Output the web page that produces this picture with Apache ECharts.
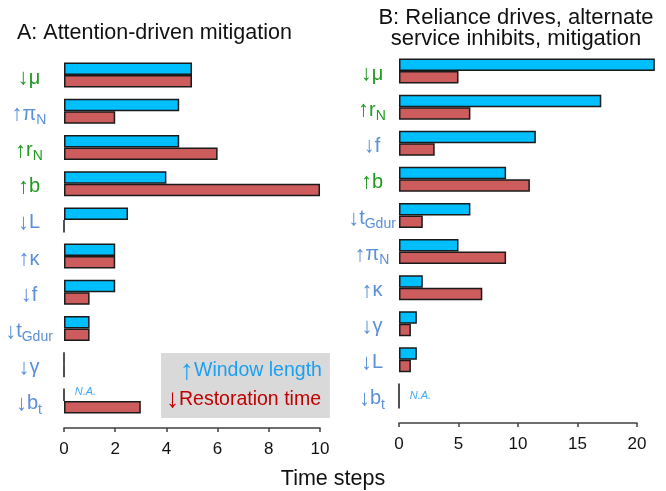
<!DOCTYPE html>
<html>
<head>
<meta charset="utf-8">
<script src="https://cdn.jsdelivr.net/npm/echarts@6/dist/echarts.min.js"></script>
<style>html,body{margin:0;padding:0;background:#fff}#c{width:666px;height:491px}</style>
</head>
<body>
<div id="c"></div>
<script>
// ---- Data ----
var catsA = ['↓μ', '↑π_N', '↑r_N', '↑b', '↓L', '↑κ', '↓f', '↓t_Gdur', '↓γ', '↓b_t'];
var windowA = [5, 4.5, 4.5, 4, 2.5, 2, 2, 1, 0, 'N.A.'];
var restoreA = [5, 2, 6, 10, 0, 2, 1, 1, 0, 3];

var catsB = ['↓μ', '↑r_N', '↓f', '↑b', '↓t_Gdur', '↑π_N', '↑κ', '↓γ', '↓L', '↓b_t'];
var windowB = [21.5, 17, 11.5, 9, 6, 5, 2, 1.5, 1.5, 'N.A.'];
var restoreB = [5, 6, 3, 11, 2, 9, 7, 1, 1, 'N.A.'];

var greenCats = ['↓μ', '↑r_N', '↑b'];
var ticksA = [0, 2, 4, 6, 8, 10];
var ticksB = [0, 5, 10, 15, 20];

var titleA = 'A: Attention-driven mitigation';
var titleB = 'B: Reliance drives, alternate\nservice inhibits, mitigation';
var seriesNames = ['↑Window length', '↓Restoration time'];
var xName = 'Time steps';

// ---- Styles ----
var BLUE = '#00bfff', RED = '#cd5c5c', EDGE = '#1a1a1a';
var LBL_GREEN = '#1f9a1f', LBL_BLUE = '#5b8fd8';
var LEG_BLUE = '#1a9ff0', LEG_RED = '#c00000';
var FONT = 'Liberation Sans, Arial, sans-serif';

function labelFmt(v) {
  var key = greenCats.indexOf(v) >= 0 ? 'g' : 'b';
  var parts = v.split('_');
  var s = '{' + key + 'a|' + parts[0].charAt(0) + '}{' + key + '|' + parts[0].slice(1) + '}';
  if (parts[1]) s += '{' + key + 's|' + parts[1] + '}';
  return s;
}
function mkRich(color) {
  return {
    a: {color: color, fontSize: 22, fontFamily: FONT, lineHeight: 24, padding: [6, 0, 0, 0]},
    m: {color: color, fontSize: 20, fontFamily: FONT, lineHeight: 24, padding: [6, 0, 0, 0]},
    s: {color: color, fontSize: 14, fontFamily: FONT, lineHeight: 15, verticalAlign: 'bottom', padding: [0, 0, -4, 0]}
  };
}
var rg = mkRich(LBL_GREEN), rb = mkRich(LBL_BLUE);
var richLbl = {ga: rg.a, g: rg.m, gs: rg.s, ba: rb.a, b: rb.m, bs: rb.s};

// first: is this the upper (window) series; other: the paired series' raw values
function toData(arr, other, first) {
  return arr.map(function (v, i) {
    if (v === 'N.A.') {
      var both = other[i] === 'N.A.';
      if (!first && both) return 0;
      return {value: 0, label: {show: true, position: 'right', formatter: 'N.A.', color: '#3fa9f5',
        fontStyle: 'italic', fontSize: 11, fontFamily: FONT, offset: [5, both ? 6 : -3]}};
    }
    return v;
  });
}

function xAxisCfg(gi, max, interval, offset) {
  return {
    type: 'value', gridIndex: gi, min: 0, max: max, interval: interval, offset: offset,
    splitLine: {show: false},
    axisLine: {show: true, lineStyle: {color: '#404040', width: 1.5}},
    axisTick: {show: true, length: 4, lineStyle: {color: '#404040', width: 1.5}},
    axisLabel: {color: '#111', fontSize: 17, fontFamily: FONT, margin: 13}
  };
}
function yAxisCfg(gi, cats, margin) {
  return {
    type: 'category', gridIndex: gi, data: cats, inverse: true,
    axisLine: {show: false}, axisTick: {show: false}, splitLine: {show: false},
    axisLabel: {formatter: labelFmt, rich: richLbl, margin: margin, align: 'center'}
  };
}
function barSeries(name, gi, data, color, other, first) {
  return {
    name: name, type: 'bar', xAxisIndex: gi, yAxisIndex: gi, data: toData(data, other, first),
    barWidth: 12.5, barGap: '0%', clip: false,
    itemStyle: {color: color, borderColor: EDGE, borderWidth: 1.5},
    emphasis: {disabled: true}
  };
}

var chart = echarts.init(document.getElementById('c'), null, {renderer: 'canvas'});
chart.setOption({
  animation: false,
  backgroundColor: '#ffffff',
  title: [
    {text: titleA, left: 12, top: 17, textStyle: {fontSize: 21.5, fontWeight: 'normal', color: '#111', fontFamily: FONT}},
    {text: titleB, left: 511, top: 2, textAlign: 'center', textStyle: {fontSize: 22, fontWeight: 'normal', color: '#111', fontFamily: FONT, lineHeight: 21}}
  ],
  grid: [
    {left: 64, right: 346, top: 57, bottom: 72},
    {left: 399, right: 29, top: 53, bottom: 77}
  ],
  xAxis: [xAxisCfg(0, 10, 2, 9), xAxisCfg(1, 20, 5, 9)],
  yAxis: [yAxisCfg(0, catsA, 35), yAxisCfg(1, catsB, 27)],
  legend: {
    left: 161, top: 353, width: 168, orient: 'vertical', icon: 'none', itemWidth: 0, itemHeight: 0, itemGap: 2,
    backgroundColor: '#d9d9d9', padding: [4, 8, 5, 0], selectedMode: false,
    formatter: function (name) {
      var k = name === seriesNames[0] ? '1' : '2';
      return '{a' + k + '|' + name.charAt(0) + '}{t' + k + '|' + name.slice(1) + '}';
    },
    textStyle: {
      rich: {
        a1: {color: LEG_BLUE, fontSize: 28, fontFamily: FONT, lineHeight: 24, padding: [0, 0, 0, 14]},
        t1: {color: LEG_BLUE, fontSize: 19.5, fontFamily: FONT, lineHeight: 24},
        a2: {color: LEG_RED, fontSize: 26, fontFamily: FONT, lineHeight: 24},
        t2: {color: LEG_RED, fontSize: 19.5, fontFamily: FONT, lineHeight: 24}
      }
    },
    data: [seriesNames[0], seriesNames[1]]
  },
  graphic: [
    {type: 'text', left: 'center', top: 468, style: {text: xName, fontSize: 21.5, fontFamily: FONT, fill: '#111'}}
  ],
  series: [
    barSeries(seriesNames[0], 0, windowA, BLUE, restoreA, true),
    barSeries(seriesNames[1], 0, restoreA, RED, windowA, false),
    barSeries(seriesNames[0], 1, windowB, BLUE, restoreB, true),
    barSeries(seriesNames[1], 1, restoreB, RED, windowB, false)
  ]
});
</script>
</body>
</html>
